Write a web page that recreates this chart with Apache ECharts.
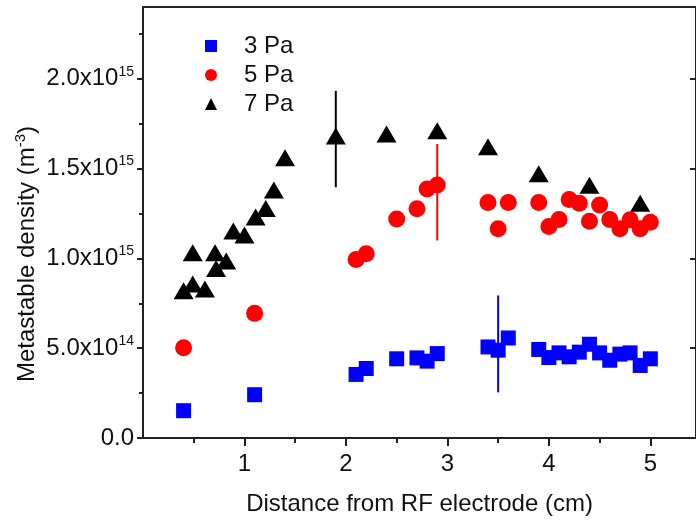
<!DOCTYPE html>
<html><head><meta charset="utf-8">
<script src="https://cdn.jsdelivr.net/npm/echarts@6/dist/echarts.min.js"></script>
<style>html,body{margin:0;padding:0;background:#fff}#c{width:696px;height:523px}</style>
</head><body><div id="c"></div>
<script>
const FONT = "'Liberation Sans', Arial, sans-serif";
const seriesNames = ['3 Pa', '5 Pa', '7 Pa'];

const x3 = [0.4, 1.1, 2.1, 2.2, 2.5, 2.7, 2.8, 2.9, 3.4, 3.5, 3.6, 3.9, 4.0, 4.1, 4.2, 4.3, 4.4, 4.5, 4.6, 4.7, 4.8, 4.9, 5.0];
const y3 = [1.52e14, 2.41e14, 3.54e14, 3.87e14, 4.41e14, 4.46e14, 4.28e14, 4.70e14, 5.07e14, 4.89e14, 5.57e14, 4.93e14, 4.48e14, 4.74e14, 4.52e14, 4.78e14, 5.22e14, 4.74e14, 4.33e14, 4.67e14, 4.74e14, 4.04e14, 4.41e14];

const x5 = [0.4, 1.1, 2.1, 2.2, 2.5, 2.7, 2.8, 2.9, 3.4, 3.5, 3.6, 3.9, 4.0, 4.1, 4.2, 4.3, 4.4, 4.5, 4.6, 4.7, 4.8, 4.9, 5.0];
const y5 = [5.02e14, 6.94e14, 9.94e14, 1.026e15, 1.220e15, 1.276e15, 1.387e15, 1.409e15, 1.311e15, 1.165e15, 1.311e15, 1.311e15, 1.178e15, 1.217e15, 1.328e15, 1.307e15, 1.207e15, 1.298e15, 1.217e15, 1.165e15, 1.215e15, 1.165e15, 1.202e15];

const x7 = [0.4, 0.49, 0.61, 0.49, 0.71, 0.72, 0.82, 0.89, 1.0, 1.11, 1.21, 1.29, 1.4, 1.9, 2.4, 2.9, 3.4, 3.9, 4.4, 4.9];
const y7 = [8.2e14, 8.57e14, 8.3e14, 1.032e15, 1.032e15, 9.44e14, 9.85e14, 1.153e15, 1.13e15, 1.231e15, 1.278e15, 1.381e15, 1.56e15, 1.682e15, 1.693e15, 1.711e15, 1.622e15, 1.472e15, 1.408e15, 1.307e15];

// error bars: [x, low, high]
const err3 = [[3.5, 2.54e14, 7.94e14]];
const err5 = [[2.9, 1.10e15, 1.637e15]];
const err7 = [[1.9, 1.396e15, 1.933e15]];

const xTickValues = [1, 2, 3, 4, 5];
const xMinorTicks = [0.5, 1.5, 2.5, 3.5, 4.5];
const yTickValues = [0, 5e14, 1e15, 1.5e15, 2e15];
const yTickMant = ['0.0', '5.0x10', '1.0x10', '1.5x10', '2.0x10'];
const yTickExp = ['', '14', '15', '15', '15'];
const yMinorTicks = [2.5e14, 7.5e14, 1.25e15, 1.75e15, 2.25e15];

const zip = (xs, ys) => xs.map((x, i) => [x, ys[i]]);
const AX = '#222';

function errSeries(data, color) {
  return {
    type: 'custom', data: data, z: 1, silent: true,
    encode: { x: 0, y: [1, 2] },
    renderItem: function (params, api) {
      const p1 = api.coord([api.value(0), api.value(1)]);
      const p2 = api.coord([api.value(0), api.value(2)]);
      return { type: 'line', shape: { x1: p1[0], y1: p1[1], x2: p2[0], y2: p2[1] }, style: { stroke: color, lineWidth: 2 } };
    }
  };
}

const chart = echarts.init(document.getElementById('c'), null, { renderer: 'canvas' });
chart.setOption({
  animation: false,
  backgroundColor: '#fff',
  grid: { left: 143, top: 7, width: 556, height: 431, containLabel: false },
  legend: {
    orient: 'vertical', left: 200, top: 29, itemWidth: 12, itemHeight: 12, itemGap: 5,
    textStyle: { fontSize: 24, lineHeight: 24, fontFamily: FONT, color: '#111', padding: [0, 0, 0, 22] },
    data: [{ name: seriesNames[0], icon: 'rect' }, { name: seriesNames[1], icon: 'circle' }, { name: seriesNames[2], icon: 'triangle' }]
  },
  xAxis: [
    {
      type: 'value', min: 0, max: 5.45, position: 'bottom',
      axisLine: { show: true, onZero: false, lineStyle: { color: AX, width: 2 } },
      axisTick: { show: true, inside: false, length: 8, customValues: xTickValues, lineStyle: { color: AX, width: 2 } },
      axisLabel: { customValues: xTickValues, fontSize: 24, fontFamily: FONT, color: '#111', margin: 14 },
      splitLine: { show: false },
      name: 'Distance from RF electrode (cm)', nameLocation: 'middle', nameGap: 54,
      nameTextStyle: { fontSize: 24, fontFamily: FONT, color: '#111' }
    },
    {
      type: 'value', min: 0, max: 5.45, position: 'bottom',
      axisLine: { show: false, onZero: false },
      axisTick: { show: true, inside: false, length: 5, customValues: xMinorTicks, lineStyle: { color: AX, width: 2 } },
      axisLabel: { show: false }, splitLine: { show: false }
    },
    {
      type: 'value', min: 0, max: 5.45, position: 'top',
      axisLine: { show: true, onZero: false, lineStyle: { color: AX, width: 2 } },
      axisTick: { show: false }, axisLabel: { show: false }, splitLine: { show: false }
    }
  ],
  yAxis: [
    {
      type: 'value', min: 0, max: 2.4e15, position: 'left',
      axisLine: { show: true, onZero: false, lineStyle: { color: AX, width: 2 } },
      axisTick: { show: true, inside: false, length: 6, customValues: yTickValues, lineStyle: { color: AX, width: 2 } },
      axisLabel: {
        customValues: yTickValues, margin: 9,
        formatter: function (v) {
          const i = yTickValues.findIndex(t => Math.abs(t - v) < 1e10);
          if (i < 0) return '';
          return yTickExp[i] ? '{a|' + yTickMant[i] + '}{b|' + yTickExp[i] + '}' : '{a|' + yTickMant[i] + '}';
        },
        rich: {
          a: { fontSize: 24, lineHeight: 28, fontFamily: FONT, color: '#111' },
          b: { fontSize: 14, lineHeight: 14, fontFamily: FONT, color: '#111', verticalAlign: 'top' }
        }
      },
      splitLine: { show: false }
    },
    {
      type: 'value', min: 0, max: 2.4e15, position: 'left',
      axisLine: { show: false, onZero: false },
      axisTick: { show: true, inside: false, length: 4, customValues: yMinorTicks, lineStyle: { color: AX, width: 2 } },
      axisLabel: { show: false }, splitLine: { show: false }
    },
    {
      type: 'value', min: 0, max: 2.4e15, position: 'right',
      axisLine: { show: true, onZero: false, lineStyle: { color: AX, width: 2 } },
      axisTick: { show: true, inside: true, length: 6, customValues: yTickValues, lineStyle: { color: AX, width: 2 } },
      axisLabel: { show: false }, splitLine: { show: false }
    }
  ],
  graphic: [{
    type: 'text', x: 27, y: 254, rotation: Math.PI / 2,
    style: {
      text: '{a|Metastable density (m}{b|-3}{a|)}',
      rich: {
        a: { fontSize: 24, lineHeight: 28, fontFamily: FONT, fill: '#111' },
        b: { fontSize: 15, lineHeight: 15, fontFamily: FONT, fill: '#111', verticalAlign: 'top' }
      },
      align: 'center', verticalAlign: 'middle'
    }
  }],
  series: [
    errSeries(err3, '#0000ff'),
    errSeries(err5, '#ff0000'),
    errSeries(err7, '#000000'),
    { name: seriesNames[0], type: 'scatter', symbol: 'rect', symbolSize: 15, itemStyle: { color: '#0000ff', opacity: 1 }, data: zip(x3, y3), z: 2 },
    { name: seriesNames[1], type: 'scatter', symbol: 'circle', symbolSize: 17, itemStyle: { color: '#ff0000', opacity: 1 }, data: zip(x5, y5), z: 3 },
    { name: seriesNames[2], type: 'scatter', symbol: 'triangle', symbolSize: [20, 17], itemStyle: { color: '#000000', opacity: 1 }, data: zip(x7, y7), z: 4 }
  ]
});
</script>
</body></html>
